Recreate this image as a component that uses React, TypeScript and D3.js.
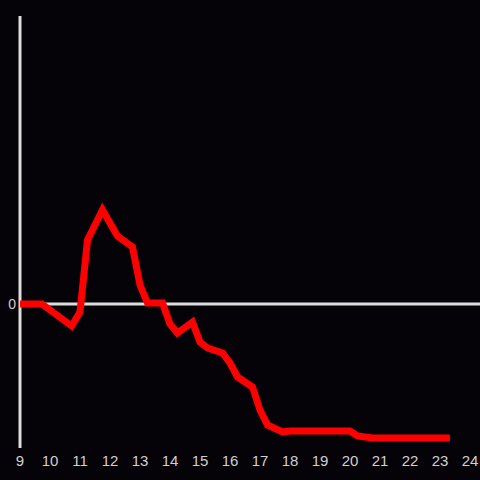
import React from "react";
import * as d3 from "d3";

const hours = [9, 9.73, 10.72, 11.0, 11.25, 11.75, 12.25, 12.75, 13.0, 13.25, 13.75, 14.0, 14.25, 14.75, 15.0, 15.25, 15.75, 16.0, 16.25, 16.75, 17.0, 17.25, 17.75, 18.0, 20.0, 20.25, 20.75, 23.33];
const values = [0, 0, -22, -8, 64, 94, 68, 57, 19, 1, 1, -20, -29, -18, -38, -44, -49, -59, -73, -83, -106, -121, -128, -127, -127, -132, -134, -134];
const xTicks = [9, 10, 11, 12, 13, 14, 15, 16, 17, 18, 19, 20, 21, 22, 23, 24];
const yTicks = [0];

export default function App() {
  const W = 480, H = 480;
  const x = d3.scaleLinear().domain([9, 24]).range([20, 470]);
  const y = d3.scaleLinear().domain([-144, 288]).range([448, 16]);
  const pts: [number, number][] = hours.map((h, i) => [h, values[i]]);
  const line = d3.line<[number, number]>().x(d => x(d[0])).y(d => y(d[1]));
  const font = "'Liberation Sans', Arial, sans-serif";
  return (
    <svg width={W} height={H} style={{ position: "absolute", left: 0, top: 0, display: "block" }}>
      <rect width={W} height={H} fill="#050307" />
      <line x1={x(9)} x2={480} y1={y(0)} y2={y(0)} stroke="#dddddd" strokeWidth={3} />
      <line x1={x(9)} x2={x(9)} y1={16} y2={448} stroke="#dddddd" strokeWidth={3} />
      {xTicks.map(t => (
        <text key={t} x={x(t)} y={466} fill="#d0d0d0" fontSize={15} fontFamily={font} textAnchor="middle">{t}</text>
      ))}
      {yTicks.map(t => (
        <text key={t} x={16} y={y(t)} dy="0.35em" fill="#d0d0d0" fontSize={14} fontFamily={font} textAnchor="end">{t}</text>
      ))}
      <path d={line(pts) || ""} fill="none" stroke="#ff0000" strokeWidth={7} strokeLinejoin="miter" strokeLinecap="butt" />
    </svg>
  );
}
